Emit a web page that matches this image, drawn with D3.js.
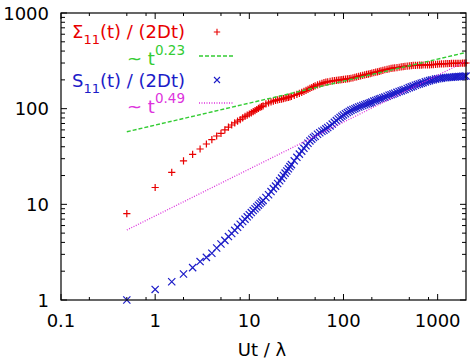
<!DOCTYPE html>
<html>
<head>
<meta charset="utf-8">
<script src="https://cdn.jsdelivr.net/npm/d3@7"></script>
<style>
  body { margin: 0; background: #fff; }
  text { font-family: "DejaVu Sans", sans-serif; }
</style>
</head>
<body>
<div id="chart"></div>
<script>
// time values (Ut / lambda) shared by both series
const tVals = [0.5, 1, 1.5, 2, 2.5, 3, 3.5, 4, 4.5, 5, 5.5, 6, 6.5, 7, 7.5, 8, 8.5, 9, 9.5,
  10, 10.5, 11, 11.5, 12, 12.5, 13, 13.5, 14, 15, 16, 17, 18, 19, 20, 21, 22, 23, 24, 25, 26, 27, 28,
  30, 32, 34, 36, 38, 40, 42, 44, 46, 48, 50, 53, 56, 59, 62, 65, 68, 72, 76, 80, 84, 88, 92, 96,
  100, 105, 110, 115, 120, 126, 132, 138, 145, 152, 160, 168, 176, 184, 192,
  200, 210, 220, 230, 240, 250, 262, 275, 290, 305, 320, 335, 350, 370, 390, 410, 430, 450, 475,
  500, 525, 550, 580, 610, 640, 670, 700, 740, 780, 820, 860, 900, 950,
  1000, 1050, 1100, 1160, 1220, 1280, 1340, 1400, 1470, 1540, 1610, 1680, 1760, 1840, 1920, 2000];

// Sigma_11(t) / (2Dt)
const sigmaVals = [8.0, 15, 21.6, 28.4, 33.3, 37.9, 42.7, 47.4, 51.8, 55.3, 60, 64, 67.5, 71, 74, 77, 80, 83, 85.5,
  88, 90.5, 93, 95.5, 98, 100.5, 103, 105, 107, 112, 115, 118, 120, 122, 123.5, 125, 126, 127.5, 129, 130, 131.5, 133, 134,
  138, 141, 144.5, 148, 151.5, 155, 159, 163, 166.5, 170, 173, 177, 180.5, 183.5, 187, 189, 191, 193, 195, 196, 197.5, 198.5, 199.5, 201,
  202, 203.5, 205, 206.5, 208, 210, 213, 215, 218, 220, 223, 225.5, 228, 230, 232.5,
  235, 238, 240.5, 243, 245.5, 248, 251, 255, 258, 261, 263.5, 265.5, 267, 269, 271, 273, 275, 277, 278.5,
  280, 281.5, 283, 284, 284.5, 285, 285.5, 286, 286.5, 287, 287.5, 288, 289, 290.5,
  292, 293, 294, 294.5, 295, 296, 296.5, 297, 297, 297.5, 298, 298, 298.5, 299, 299, 300];

// S_11(t) / (2Dt)
const sVals = [1.0, 1.29, 1.55, 1.87, 2.18, 2.52, 2.79, 3.08, 3.5, 3.85, 4.2, 4.6, 4.95, 5.35, 5.75, 6.2, 6.6, 7.0, 7.4,
  7.8, 8.2, 8.6, 9.0, 9.4, 9.8, 10.2, 10.6, 11.0, 11.8, 12.6, 13.6, 14.6, 15.5, 16.5, 17.6, 18.8, 20, 21.2, 22.3, 23.5, 24.8, 26,
  28.5, 31, 33.5, 36, 38.5, 41, 43.5, 46, 48, 50, 51.5, 54, 56, 58, 59.5, 61.5, 63.5, 66, 69, 72, 75, 78, 81, 83.5,
  86, 88.5, 91, 93.5, 96, 98, 100, 102, 104, 106, 108, 110, 112, 113.5, 115,
  117, 120, 122, 124, 126, 128, 130, 132, 135, 138, 140, 142.5, 145, 148, 151, 153.5, 156.5, 159, 162.5,
  166, 169, 172, 175.5, 178.5, 181.5, 184.5, 187, 190.5, 193.5, 196.5, 199, 201, 203.5,
  205.5, 207, 208.5, 210, 211, 212, 213, 213.5, 214, 215, 216, 216.5, 217, 218, 218.5, 219];

// power-law guide lines: coefficient * t^exponent
const fitNames = ["0.23", "0.49"];
const fitExps = [0.23, 0.49];
const fitCoefs = [67.3, 7.57];
const fitRange = [0.5, 2000];

const xTicks = [0.1, 1, 10, 100, 1000];
const yTicks = [1, 10, 100, 1000];

const W = 472, H = 361;
const margin = {left: 61, right: 6, top: 13, bottom: 61};

const red = "#e80000", green = "#33cc33", blue = "#1c1cc8", magenta = "#dd33dd";

const svg = d3.select("#chart").append("svg")
  .attr("width", W).attr("height", H);

svg.append("rect").attr("width", W).attr("height", H).attr("fill", "#fff");

const x = d3.scaleLog().domain([0.1, 2000]).range([margin.left, W - margin.right]);
const y = d3.scaleLog().domain([1, 1000]).range([H - margin.bottom, margin.top]);

const x0 = x.range()[0], x1 = x.range()[1];
const y0 = y.range()[0], y1 = y.range()[1];

// minor ticks
const xMinor = [];
const yMinor = [];
[0.1, 1, 10, 100, 1000].forEach(d => {
  [2, 5, 8].forEach(m => { if (d * m < 2000) xMinor.push(d * m); });
});
[1, 10, 100].forEach(d => {
  [2, 3, 4, 5, 6, 7, 8, 9].forEach(m => yMinor.push(d * m));
});

const ticks = svg.append("g").attr("stroke", "#000").attr("stroke-width", 1);
xTicks.forEach(d => {
  ticks.append("line").attr("x1", x(d)).attr("x2", x(d)).attr("y1", y0).attr("y2", y0 - 6);
  ticks.append("line").attr("x1", x(d)).attr("x2", x(d)).attr("y1", y1).attr("y2", y1 + 6);
});
xMinor.forEach(d => {
  ticks.append("line").attr("x1", x(d)).attr("x2", x(d)).attr("y1", y0).attr("y2", y0 - 3);
  ticks.append("line").attr("x1", x(d)).attr("x2", x(d)).attr("y1", y1).attr("y2", y1 + 3);
});
yTicks.forEach(d => {
  ticks.append("line").attr("x1", x0).attr("x2", x0 + 6).attr("y1", y(d)).attr("y2", y(d));
  ticks.append("line").attr("x1", x1).attr("x2", x1 - 6).attr("y1", y(d)).attr("y2", y(d));
});
yMinor.forEach(d => {
  ticks.append("line").attr("x1", x0).attr("x2", x0 + 4).attr("y1", y(d)).attr("y2", y(d));
  ticks.append("line").attr("x1", x1).attr("x2", x1 - 4).attr("y1", y(d)).attr("y2", y(d));
});

// tick labels
svg.append("g").selectAll("text").data(xTicks).join("text")
  .attr("x", d => x(d)).attr("y", 327)
  .attr("text-anchor", "middle").attr("font-size", 18)
  .text(d => d);

svg.append("g").selectAll("text").data(yTicks).join("text")
  .attr("x", 49).attr("y", d => y(d) + 6.5)
  .attr("text-anchor", "end").attr("font-size", 18)
  .text(d => d);

svg.append("text")
  .attr("x", 262).attr("y", 356)
  .attr("text-anchor", "middle").attr("font-size", 18)
  .text("Ut / λ");

// data
const sigmaData = tVals.map((t, i) => ({t: t, v: sigmaVals[i]}));
const sData = tVals.map((t, i) => ({t: t, v: sVals[i]}));

const plus = s => `M${-s},0H${s}M0,${-s}V${s}`;
const cross = s => `M${-s},${-s}L${s},${s}M${-s},${s}L${s},${-s}`;

function fitLine(k) {
  return fitRange.map(t => [x(t), y(fitCoefs[k] * Math.pow(t, fitExps[k]))]);
}

const plot = svg.append("g");

plot.append("g").selectAll("path").data(sigmaData).join("path")
  .attr("transform", d => `translate(${x(d.t)},${y(d.v)})`)
  .attr("d", plus(3.6))
  .attr("stroke", red).attr("stroke-width", 1.2).attr("fill", "none");

plot.append("path")
  .attr("d", d3.line()(fitLine(0)))
  .attr("stroke", green).attr("stroke-width", 1.4)
  .attr("stroke-dasharray", "4,2").attr("fill", "none");

plot.append("g").selectAll("path").data(sData).join("path")
  .attr("transform", d => `translate(${x(d.t)},${y(d.v)})`)
  .attr("d", cross(3.6))
  .attr("stroke", blue).attr("stroke-width", 1.2).attr("fill", "none");

plot.append("path")
  .attr("d", d3.line()(fitLine(1)))
  .attr("stroke", magenta).attr("stroke-width", 1.3)
  .attr("stroke-dasharray", "1,1.5").attr("fill", "none");

// legend
const legX = 185;
const lg = svg.append("g").attr("font-size", 18).attr("text-anchor", "end");

function subLabel(baseY, head, sub, color) {
  const t = lg.append("text").attr("x", legX).attr("y", baseY).attr("fill", color);
  t.append("tspan").text(head);
  t.append("tspan").attr("font-size", 13).attr("dy", 6).text(sub);
  t.append("tspan").attr("dy", -6).text("(t) / (2Dt)");
}
function supLabel(baseY, sup, color) {
  const t = lg.append("text").attr("x", legX).attr("y", baseY).attr("fill", color);
  t.append("tspan").text("~ t");
  t.append("tspan").attr("font-size", 13.5).attr("dy", -10).text(sup);
}

subLabel(37.5, "Σ", "11", red);
supLabel(64.5, fitNames[0], green);
subLabel(86.5, "S", "11", blue);
supLabel(113, fitNames[1], magenta);

svg.append("path").attr("transform", "translate(217,32)").attr("d", plus(3.2))
  .attr("stroke", red).attr("stroke-width", 1.1);
svg.append("line").attr("x1", 199).attr("x2", 235).attr("y1", 56).attr("y2", 56)
  .attr("stroke", green).attr("stroke-width", 1.4).attr("stroke-dasharray", "4,2");
svg.append("path").attr("transform", "translate(217,80)").attr("d", cross(3))
  .attr("stroke", blue).attr("stroke-width", 1.1);
svg.append("line").attr("x1", 199).attr("x2", 233).attr("y1", 103).attr("y2", 103)
  .attr("stroke", magenta).attr("stroke-width", 1.3).attr("stroke-dasharray", "1,1.5");

// frame
svg.append("rect")
  .attr("x", x0).attr("y", y1)
  .attr("width", x1 - x0).attr("height", y0 - y1)
  .attr("fill", "none").attr("stroke", "#000").attr("stroke-width", 1.2);
</script>
</body>
</html>
